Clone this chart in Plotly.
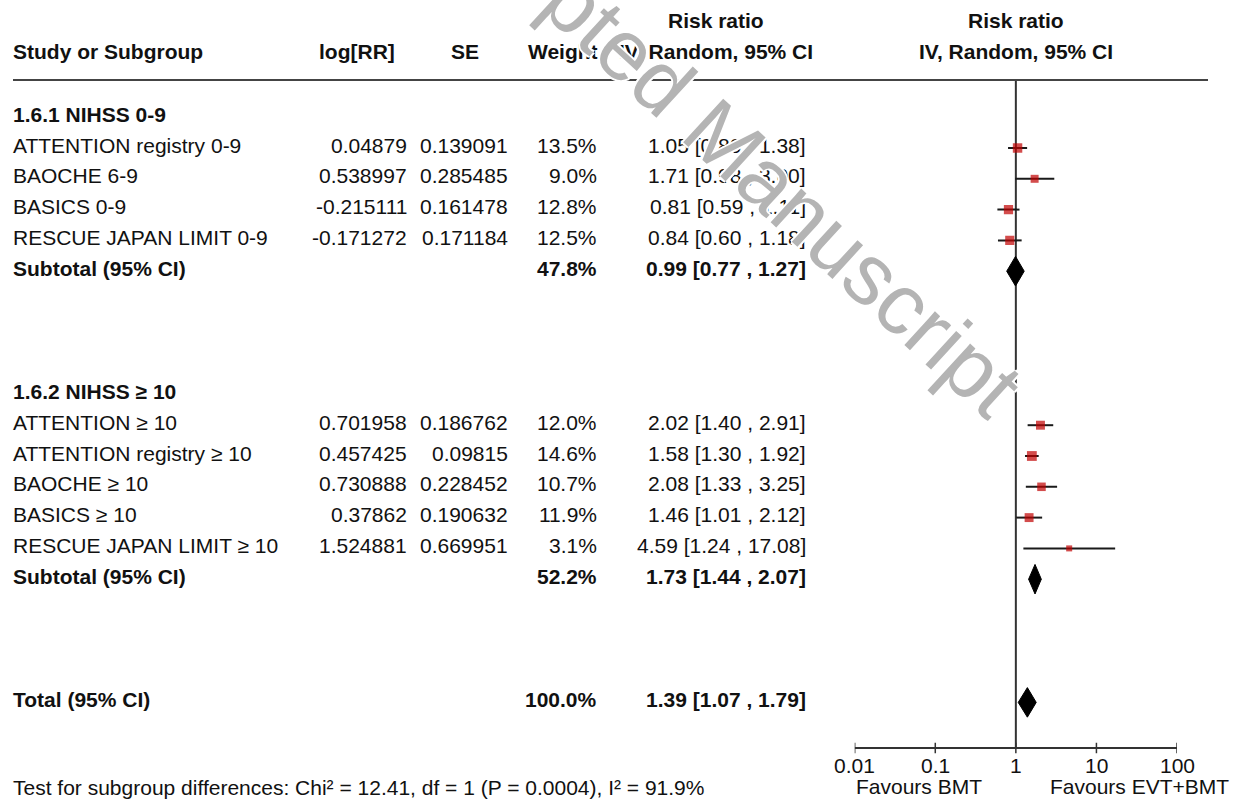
import math
import plotly.graph_objects as go

# ---- data ---------------------------------------------------------------
group_labels = ["1.6.1 NIHSS 0-9", "1.6.2 NIHSS ≥ 10"]

g1_studies = ["ATTENTION registry 0-9", "BAOCHE 6-9", "BASICS 0-9", "RESCUE JAPAN LIMIT 0-9"]
g1_logrr = [0.04879, 0.538997, -0.215111, -0.171272]
g1_se = [0.139091, 0.285485, 0.161478, 0.171184]
g1_weight = [13.5, 9.0, 12.8, 12.5]
g1_rr = [1.05, 1.71, 0.81, 0.84]
g1_lo = [0.80, 0.98, 0.59, 0.60]
g1_hi = [1.38, 3.00, 1.11, 1.18]
g1_sub_weight = 47.8
g1_sub_rr = [0.99, 0.77, 1.27]

g2_studies = ["ATTENTION ≥ 10", "ATTENTION registry ≥ 10", "BAOCHE ≥ 10", "BASICS ≥ 10",
              "RESCUE JAPAN LIMIT ≥ 10"]
g2_logrr = [0.701958, 0.457425, 0.730888, 0.37862, 1.524881]
g2_se = [0.186762, 0.09815, 0.228452, 0.190632, 0.669951]
g2_weight = [12.0, 14.6, 10.7, 11.9, 3.1]
g2_rr = [2.02, 1.58, 2.08, 1.46, 4.59]
g2_lo = [1.40, 1.30, 1.33, 1.01, 1.24]
g2_hi = [2.91, 1.92, 3.25, 2.12, 17.08]
g2_sub_weight = 52.2
g2_sub_rr = [1.73, 1.44, 2.07]

total_weight = 100.0
total_rr = [1.39, 1.07, 1.79]

axis_ticks = [0.01, 0.1, 1, 10, 100]
axis_tick_text = ["0.01", "0.1", "1", "10", "100"]
favours_left = "Favours BMT"
favours_right = "Favours EVT+BMT"
subgroup_test = "Test for subgroup differences: Chi² = 12.41, df = 1 (P = 0.0004), I² = 91.9%"

# ---- layout helpers ----------------------------------------------------
W, H = 1238, 800
ROW0_PX, ROW_H = 117.2, 30.8           # row 0 = first group heading
TEXT_LIFT = 3                           # row labels sit slightly above the marks
FONT = "Liberation Sans, Arial, sans-serif"
FS = 21
INK = "#111111"
LEFT = 11


def row_of_px(px):
    return (px - ROW0_PX) / ROW_H


def txt_px(r):
    return ROW0_PX + r * ROW_H - TEXT_LIFT


def py(px):
    return 1 - px / H


def fmt_ci(est, lo, hi):
    return f"{est:.2f} [{lo:.2f} , {hi:.2f}]"


annotations = []


def text(px_x, px_y, s, anchor="left", bold=False, size=FS, color=INK):
    annotations.append(dict(
        x=px_x / W, y=py(px_y), xref="paper", yref="paper",
        text=f"<b>{s}</b>" if bold else s, showarrow=False,
        xanchor=anchor, yanchor="middle",
        font=dict(family=FONT, size=size, color=color)))


fig = go.Figure()

# column headings
text(LEFT, 52, "Study or Subgroup", bold=True)
text(357, 52, "log[RR]", anchor="center", bold=True)
text(465, 52, "SE", anchor="center", bold=True)
text(563, 52, "Weight", anchor="center", bold=True)
text(716, 21, "Risk ratio", anchor="center", bold=True)
text(716, 52, "IV, Random, 95% CI", anchor="center", bold=True)
text(1016, 21, "Risk ratio", anchor="center", bold=True)
text(1016, 52, "IV, Random, 95% CI", anchor="center", bold=True)

# study rows
groups = [
    (0, group_labels[0], g1_studies, g1_logrr, g1_se, g1_weight, g1_rr, g1_lo, g1_hi,
     g1_sub_weight, g1_sub_rr),
    (9, group_labels[1], g2_studies, g2_logrr, g2_se, g2_weight, g2_rr, g2_lo, g2_hi,
     g2_sub_weight, g2_sub_rr),
]

sq_x, sq_y, sq_size = [], [], []
ci_x, ci_y = [], []
diamonds = []

for start, label, names, lrr, se, wt, rr, lo, hi, sw, srr in groups:
    text(LEFT, txt_px(start), label, bold=True)
    for i, name in enumerate(names):
        r = start + 1 + i
        ty = txt_px(r)
        text(LEFT, ty, name)
        text(409, ty, f"{lrr[i]}", anchor="right")
        text(510, ty, f"{se[i]}", anchor="right")
        text(599, ty, f"{wt[i]:.1f}%", anchor="right")
        text(808, ty, fmt_ci(rr[i], lo[i], hi[i]), anchor="right")
        sq_x.append(rr[i]); sq_y.append(r); sq_size.append(5 + 0.33 * wt[i])
        ci_x += [lo[i], hi[i], None]; ci_y += [r, r, None]
    r = start + 1 + len(names)
    ty = txt_px(r)
    text(LEFT, ty, "Subtotal (95% CI)", bold=True)
    text(599, ty, f"{sw:.1f}%", anchor="right", bold=True)
    text(808, ty, fmt_ci(*srr), anchor="right", bold=True)
    diamonds.append((srr, r))

# overall
TOTAL_ROW = 19
ty = txt_px(TOTAL_ROW)
text(LEFT, ty, "Total (95% CI)", bold=True)
text(599, ty, f"{total_weight:.1f}%", anchor="right", bold=True)
text(808, ty, fmt_ci(*total_rr), anchor="right", bold=True)
diamonds.append((total_rr, TOTAL_ROW))

AXIS_ROW = row_of_px(748)
TOP_ROW = row_of_px(80)

# line of no effect
fig.add_trace(go.Scatter(x=[1, 1], y=[TOP_ROW, AXIS_ROW], mode="lines",
                         line=dict(color="#333333", width=2), hoverinfo="skip"))

# confidence intervals
fig.add_trace(go.Scatter(x=ci_x, y=ci_y, mode="lines",
                         line=dict(color="#1a1a1a", width=2), hoverinfo="skip"))

# point estimates
fig.add_trace(go.Scatter(x=sq_x, y=sq_y, mode="markers",
                         marker=dict(symbol="square", size=sq_size, color="#c00000",
                                     line=dict(width=0)), hoverinfo="skip"))

# pooled estimates
DH = 0.48
for (est, lo, hi), r in diamonds:
    fig.add_trace(go.Scatter(x=[lo, est, hi, est, lo], y=[r, r - DH, r, r + DH, r],
                             mode="lines", fill="toself", fillcolor="#000000",
                             line=dict(color="#000000", width=1), hoverinfo="skip"))

# bottom axis
fig.add_trace(go.Scatter(x=[axis_ticks[0], axis_ticks[-1]], y=[AXIS_ROW, AXIS_ROW],
                         mode="lines", line=dict(color="#333333", width=2),
                         hoverinfo="skip", cliponaxis=False))
tk_x, tk_y = [], []
for t in axis_ticks:
    tk_x += [t, t, None]
    tk_y += [AXIS_ROW - 0.17, AXIS_ROW + 0.17, None]
fig.add_trace(go.Scatter(x=tk_x, y=tk_y, mode="lines",
                         line=dict(color="#333333", width=1.5), hoverinfo="skip",
                         cliponaxis=False))
for t, lab in zip(axis_ticks, axis_tick_text):
    annotations.append(dict(x=math.log10(t), y=py(765), xref="x", yref="paper", text=lab,
                            showarrow=False, xanchor="center", yanchor="middle",
                            font=dict(family=FONT, size=FS, color=INK)))

text(919, 786, favours_left, anchor="center")
text(1139, 786, favours_right, anchor="center")
text(LEFT, 787, subgroup_test)

# watermark, drawn over everything with a thin white halo
halo = "2px 0 0 #fff, -2px 0 0 #fff, 0 2px 0 #fff, 0 -2px 0 #fff"
annotations.append(dict(x=712 / W, y=py(128), xref="paper", yref="paper",
                        text="Accepted Manuscript", showarrow=False, textangle=42.5,
                        xanchor="center", yanchor="middle",
                        font=dict(family=FONT, size=86, color="#b4b4b4", shadow=halo)))

x0, x1 = 854.7, 1177.0
fig.update_layout(
    width=W, height=H, margin=dict(l=0, r=0, t=0, b=0),
    paper_bgcolor="white", plot_bgcolor="rgba(0,0,0,0)",
    showlegend=False, annotations=annotations,
    shapes=[dict(type="line", xref="paper", yref="paper", x0=13 / W, x1=1208 / W,
                 y0=py(80), y1=py(80), line=dict(color="#444444", width=2))],
    xaxis=dict(type="log", range=[-2, 2], domain=[x0 / W, x1 / W], visible=False,
               fixedrange=True),
    yaxis=dict(range=[row_of_px(H), row_of_px(0)], domain=[0, 1], visible=False,
               fixedrange=True),
)

fig.write_html("out.html")
